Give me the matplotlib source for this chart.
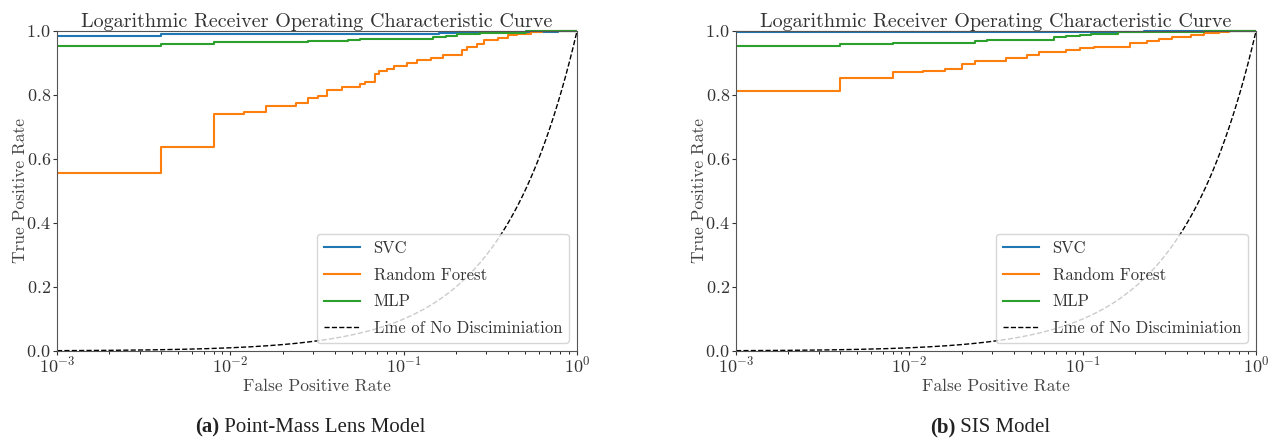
import matplotlib
matplotlib.use("Agg")
import matplotlib.pyplot as plt
from matplotlib.patches import Rectangle
from matplotlib.offsetbox import TextArea, HPacker, AnchoredOffsetbox
import numpy as np

# ROC step curves (fpr breakpoints, tpr held until next breakpoint)
# (a) Point-Mass Lens Model
pm_svc_fpr = [0, 0.004, 0.16, 0.2, 0.78, 1.0]
pm_svc_tpr = [0.984, 0.990, 0.994, 0.997, 1.0, 1.0]

pm_rf_fpr = [0, 0.004, 0.008, 0.012, 0.016, 0.024, 0.028, 0.032, 0.036, 0.044,
             0.056, 0.060, 0.068, 0.072, 0.080, 0.088, 0.104, 0.120, 0.144, 0.168,
             0.216, 0.232, 0.264, 0.292, 0.348, 0.400, 0.452, 0.540, 0.624, 1.0]
pm_rf_tpr = [0.556, 0.636, 0.740, 0.748, 0.765, 0.776, 0.789, 0.797, 0.817, 0.825,
             0.833, 0.842, 0.865, 0.874, 0.881, 0.892, 0.900, 0.908, 0.917, 0.926,
             0.942, 0.950, 0.960, 0.973, 0.979, 0.986, 0.992, 0.996, 1.0, 1.0]

pm_mlp_fpr = [0, 0.004, 0.008, 0.028, 0.048, 0.056, 0.148, 0.176, 0.204, 0.277, 0.51, 1.0]
pm_mlp_tpr = [0.952, 0.959, 0.964, 0.969, 0.973, 0.976, 0.980, 0.985, 0.990, 0.995, 1.0, 1.0]

# (b) SIS Model
sis_svc_fpr = [0, 0.225, 1.0]
sis_svc_tpr = [0.998, 1.0, 1.0]

sis_rf_fpr = [0, 0.004, 0.008, 0.012, 0.016, 0.020, 0.024, 0.036, 0.048, 0.056,
              0.080, 0.096, 0.116, 0.188, 0.236, 0.276, 0.328, 0.420, 0.500, 0.610,
              0.70, 1.0]
sis_rf_tpr = [0.811, 0.852, 0.872, 0.876, 0.881, 0.898, 0.905, 0.917, 0.925, 0.933,
              0.941, 0.946, 0.950, 0.963, 0.968, 0.974, 0.982, 0.988, 0.994, 0.998,
              1.0, 1.0]

sis_mlp_fpr = [0, 0.004, 0.008, 0.024, 0.028, 0.068, 0.080, 0.096, 0.112, 0.16, 0.5, 1.0]
sis_mlp_tpr = [0.953, 0.958, 0.962, 0.969, 0.973, 0.980, 0.984, 0.987, 0.990, 0.996, 1.0, 1.0]

labels = ["SVC", "Random Forest", "MLP"]
captions = [("(a)", "Point-Mass Lens Model"), ("(b)", "SIS Model")]

plt.rcParams["font.family"] = ["cmr10", "DejaVu Serif"]
plt.rcParams["mathtext.fontset"] = "cm"
plt.rcParams["axes.formatter.use_mathtext"] = True

fig = plt.figure(figsize=(12.73, 4.4), dpi=100)
axes = [fig.add_axes([0.0448, 0.2023, 0.4085, 0.7273]),
        fig.add_axes([0.5782, 0.2023, 0.4085, 0.7273])]

panels = [
    [(pm_svc_fpr, pm_svc_tpr), (pm_rf_fpr, pm_rf_tpr), (pm_mlp_fpr, pm_mlp_tpr)],
    [(sis_svc_fpr, sis_svc_tpr), (sis_rf_fpr, sis_rf_tpr), (sis_mlp_fpr, sis_mlp_tpr)],
]
colors = ["#1f77b4", "#ff7f0e", "#2ca02c"]
caption_x = [310 / 1273, 990 / 1273]

ref = np.logspace(-3, 0, 400)

for ax, curves, (tag, cap), cx in zip(axes, panels, captions, caption_x):
    # slightly enlarged clip box so the curves at TPR=1 are not cut in half
    clip = Rectangle((0, -0.01), 1, 1.02, transform=ax.transAxes, visible=False)
    ax.add_patch(clip)
    for (f, t), lab, c in zip(curves, labels, colors):
        ln, = ax.step(f, t, where="post", color=c, lw=1.5, label=lab)
        ln.set_clip_path(clip)
    ax.plot(ref, ref, "k--", lw=1.0, label="Line of No Disciminiation")
    ax.set_xscale("log")
    ax.set_xlim(1e-3, 1)
    ax.set_ylim(0, 1)
    ax.set_yticks([0.0, 0.2, 0.4, 0.6, 0.8, 1.0])
    ax.tick_params(which="major", length=3, pad=1.5)
    ax.tick_params(which="minor", length=2)
    ax.tick_params(axis="x", which="major", pad=0)
    ax.tick_params(labelsize=13, colors="#333333")
    for s in ax.spines.values():
        s.set_color("#555555")
    ax.set_title("Logarithmic Receiver Operating Characteristic Curve",
                 fontsize=14.5, color="#333333", pad=2)
    ax.set_xlabel("False Positive Rate", fontsize=12.5, color="#444444", labelpad=2)
    ax.set_ylabel("True Positive Rate", fontsize=12.5, color="#444444", labelpad=-1)
    leg = ax.legend(loc="lower right", fontsize=12, framealpha=0.8,
                    handlelength=2.2, labelspacing=0.68)
    for txt in leg.get_texts():
        txt.set_color("#333333")

    # bold tag + regular caption below each panel
    ta = TextArea(tag, textprops=dict(fontsize=15, fontweight="bold",
                                      family="Liberation Serif", color="#222222"))
    tb = TextArea(" " + cap, textprops=dict(fontsize=15, family="Liberation Serif",
                                            color="#222222"))
    box = HPacker(children=[ta, tb], align="baseline", pad=0, sep=0)
    anc = AnchoredOffsetbox(loc="center", child=box, frameon=False,
                            bbox_to_anchor=(cx, 1 - 427 / 440),
                            bbox_transform=fig.transFigure, borderpad=0)
    fig.add_artist(anc)

fig.savefig("out.png", dpi=100, facecolor="white")
